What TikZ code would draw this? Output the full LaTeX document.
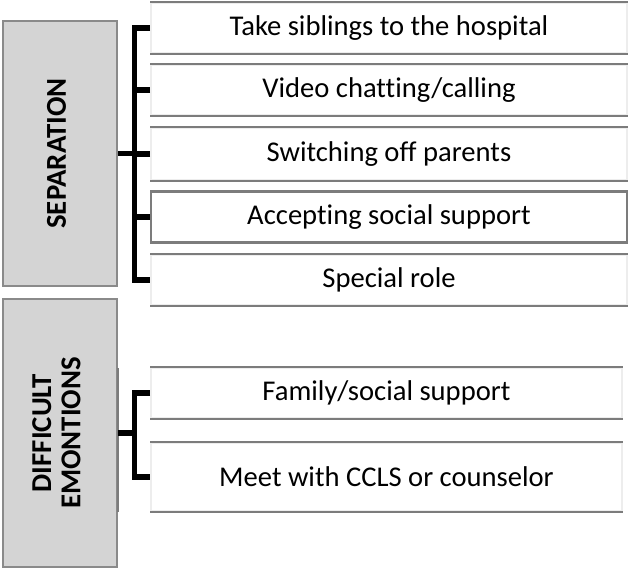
\documentclass[tikz,border=0pt]{standalone}
\usepackage{fontspec}
\setmainfont{Carlito}[Ligatures=NoCommon]
\usetikzlibrary{calc}
\definecolor{themefill}{HTML}{D4D4D4}
\definecolor{themeedge}{HTML}{8A8A8A}
\definecolor{rowedge}{HTML}{7C7C7C}
\definecolor{rowfaint}{HTML}{EDEDED}
\newcommand{\sidelabel}[1]{\rotatebox{90}{\begin{tabular}{@{}c@{}}#1\end{tabular}}}
\begin{document}
\begin{tikzpicture}[x=0.5pt,y=-0.5pt,
  theme/.style={draw=themeedge,line width=1pt,fill=themefill,minimum width=57pt,inner sep=0pt,
    font=\fontsize{14.4}{14.6}\selectfont\bfseries},
  item/.style={draw=rowfaint,line width=0.8pt,fill=white,minimum width=238pt,minimum height=25pt,
    inner sep=0pt,font=\fontsize{14.3}{16}\selectfont},
  rowline/.style={draw=rowedge,line width=1pt},
  brace/.style={draw=black,line width=2.6pt}
]
\useasboundingbox (0,0) rectangle (632,570);
% theme boxes
\node[theme,minimum height=132.5pt] (sep) at (60,153.5) {\sidelabel{SEPARATION}};
\node[theme,minimum height=134pt] (diff) at (60,433) {\sidelabel{DIFFICULT\\EMONTIONS}};
\draw[draw=rowedge,line width=1pt] ($(diff.east)+(0,-65)$) -- ($(diff.east)+(0,79)$);
% separation strategies
\node[item] (r1) at (389,28) {Take siblings to the hospital};
\node[item] (r2) at (389,90) {Video chatting/calling};
\node[item,minimum height=26pt] (r3) at (389,154) {Switching off parents};
\node[item,draw=rowedge] (r4) at (389,217) {Accepting social support};
\node[item] (r5) at (389,280) {Special role};
% difficult emotion strategies
\node[item,minimum width=235.5pt] (d1) at (386.5,393) {Family/social support};
\node[item,minimum width=235.5pt,minimum height=34pt] (d2) at (386.5,477) {Meet with CCLS or counselor};
\foreach \r in {r1,r2,r3,r4,r5,d1,d2}{
  \draw[rowline] (\r.north west) -- (\r.north east);
  \draw[rowline] (\r.south west) -- (\r.south east);
}
% brackets
\draw[brace] (r1.west) -- ++(-16,0) coordinate (sb) |- (r5.west);
\foreach \r in {r2,r3,r4}
  \draw[brace] (\r.west) -- (\r.west -| sb);
\draw[brace] (sep.east) -- (sep.east -| sb);
\draw[brace] (d1.west) -- ++(-16,0) coordinate (db) |- (d2.west);
\draw[brace] (diff.east) -- (diff.east -| db);
\end{tikzpicture}
\end{document}
